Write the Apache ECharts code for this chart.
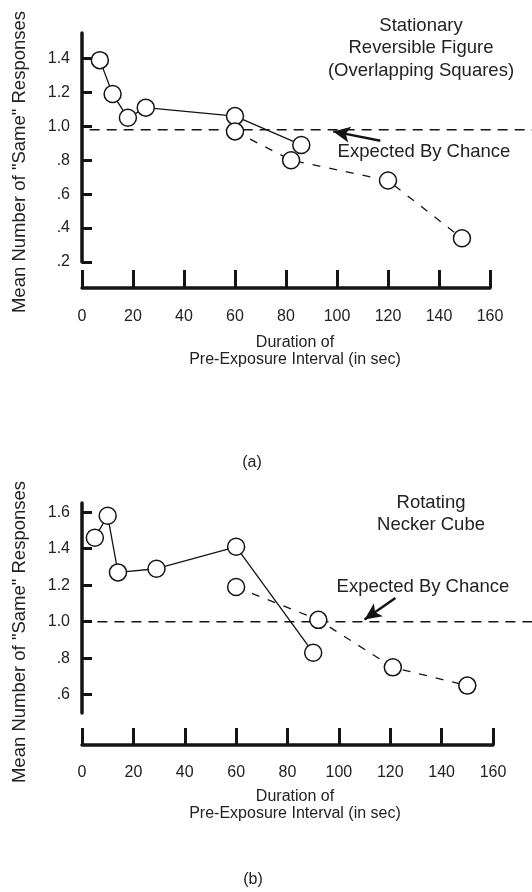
<!DOCTYPE html>
<html><head><meta charset="utf-8">
<script src="https://cdn.jsdelivr.net/npm/echarts@6/dist/echarts.min.js"></script>
<style>html,body{margin:0;padding:0;background:#fff}#c{width:532px;height:892px}</style>
</head><body><div id="c"></div>
<script>
// ---- data ----
const xTicks = [0, 20, 40, 60, 80, 100, 120, 140, 160];
const yTicksA = [0.2, 0.4, 0.6, 0.8, 1.0, 1.2, 1.4];
const yTicksB = [0.6, 0.8, 1.0, 1.2, 1.4, 1.6];
const aSolidX = [7, 12, 18, 25, 60, 86];
const aSolidY = [1.39, 1.19, 1.05, 1.11, 1.06, 0.89];
const aDashX = [60, 82, 120, 149];
const aDashY = [0.97, 0.80, 0.68, 0.34];
const bSolidX = [5, 10, 14, 29, 60, 90];
const bSolidY = [1.46, 1.58, 1.27, 1.29, 1.41, 0.83];
const bDashX = [60, 92, 121, 150];
const bDashY = [1.19, 1.01, 0.75, 0.65];
const chanceA = 0.98;
const chanceB = 1.0;
const titleA = 'Stationary\nReversible Figure\n(Overlapping Squares)';
const titleB = 'Rotating\nNecker Cube';
const chanceText = 'Expected By Chance';
const xName = 'Duration of\nPre-Exposure Interval (in sec)';
const yName = 'Mean Number of "Same" Responses';

const FONT = '"Liberation Sans", Arial, Helvetica, sans-serif';
const INK = '#141414';
const zip = (xs, ys) => xs.map((x, i) => [x, ys[i]]);
const fmtY = v => v >= 1 ? v.toFixed(1) : v.toFixed(1).replace(/^0/, '');

function xAxis(gi, offset, tickLen, margin) {
  return {
    type: 'value', gridIndex: gi, min: 0, max: 160, interval: 20, offset: offset,
    splitLine: { show: false },
    axisLine: { show: true, lineStyle: { color: INK, width: 3.5 } },
    axisTick: { show: true, inside: true, length: tickLen, lineStyle: { color: INK, width: 3 }, customValues: xTicks },
    axisLabel: { customValues: xTicks, margin: margin, fontSize: 16, color: '#222', fontFamily: FONT }
  };
}
function yAxis(gi, min, max, ticks) {
  return {
    type: 'value', gridIndex: gi, min: min, max: max,
    splitLine: { show: false },
    axisLine: { show: true, lineStyle: { color: INK, width: 3.5 } },
    axisTick: { show: true, inside: true, length: 10, lineStyle: { color: INK, width: 3 }, customValues: ticks },
    axisLabel: { customValues: ticks, margin: 12, fontSize: 16, color: '#222', fontFamily: FONT, formatter: fmtY }
  };
}
function hiddenAxis(gi, min, max) {
  return { type: 'value', gridIndex: gi, min: min, max: max, show: false, splitLine: { show: false } };
}
function dataSeries(gi, data, dashed) {
  return {
    type: 'line', xAxisIndex: gi, yAxisIndex: gi, data: data, z: 5,
    symbol: 'circle', symbolSize: 17,
    itemStyle: { color: '#fff', borderColor: INK, borderWidth: 1.5 },
    lineStyle: { color: INK, width: 1.3, type: dashed ? [8, 9] : 'solid' },
    emphasis: { disabled: true }, animation: false
  };
}
function chanceSeries(gi, level, x0, x1, arrowFrom, arrowTo) {
  return {
    type: 'line', xAxisIndex: gi, yAxisIndex: gi, z: 2,
    data: [[x0, level], [x1, level]], symbol: 'none',
    lineStyle: { color: INK, width: 1.5, type: [10, 7] },
    emphasis: { disabled: true }, animation: false,
    markLine: {
      silent: true, animation: false, label: { show: false },
      lineStyle: { color: INK, width: 2.5, type: 'solid' },
      data: [[
        { coord: arrowFrom, symbol: 'none' },
        { coord: arrowTo, symbol: 'arrow', symbolSize: [12, 17] }
      ]]
    }
  };
}
function txt(x, y, text, opts) {
  return {
    type: 'text', x: x, y: y, silent: true,
    style: Object.assign({ text: text, fill: '#222', font: '16px ' + FONT, textAlign: 'center', textVerticalAlign: 'middle' }, opts || {})
  };
}

// full-width overlay grids share the scale of the plot grids (px per unit)
const wA = 408, wB = 411, wFull = 450;
const chart = echarts.init(document.getElementById('c'), null, { renderer: 'canvas' });
chart.setOption({
  backgroundColor: '#fff',
  animation: false,
  grid: [
    { left: 82, top: 33, width: wA, height: 229 },
    { left: 82, top: 503, width: wB, height: 210 },
    { left: 82, top: 33, width: wFull, height: 229 },
    { left: 82, top: 503, width: wFull, height: 210 }
  ],
  xAxis: [xAxis(0, 26, 18, 21), xAxis(1, 32, 17, 20),
          hiddenAxis(2, 0, 160 * wFull / wA), hiddenAxis(3, 0, 160 * wFull / wB)],
  yAxis: [yAxis(0, 0.2, 1.55, yTicksA), yAxis(1, 0.5, 1.65, yTicksB),
          hiddenAxis(2, 0.2, 1.55), hiddenAxis(3, 0.5, 1.65)],
  series: [
    chanceSeries(2, chanceA, 3, 160 * wFull / wA, [117, 0.915], [98.5, 0.97]),
    dataSeries(0, zip(aSolidX, aSolidY), false),
    dataSeries(0, zip(aDashX, aDashY), true),
    chanceSeries(3, chanceB, 6, 160 * wFull / wB, [122, 1.13], [110, 1.012]),
    dataSeries(1, zip(bSolidX, bSolidY), false),
    dataSeries(1, zip(bDashX, bDashY), true)
  ],
  graphic: [
    txt(421, 48, titleA, { font: '18.5px ' + FONT, lineHeight: 22.5 }),
    txt(431, 514, titleB, { font: '18.5px ' + FONT, lineHeight: 22.5 }),
    txt(424, 152, chanceText, { font: '18.5px ' + FONT }),
    txt(423, 587, chanceText, { font: '18.5px ' + FONT }),
    txt(295, 351, xName, { lineHeight: 17 }),
    txt(295, 805, xName, { lineHeight: 17 }),
    txt(252, 463, '(a)'),
    txt(253, 880, '(b)'),
    Object.assign(txt(20, 162, yName, { font: '18.5px ' + FONT }), { rotation: Math.PI / 2 }),
    Object.assign(txt(20, 632, yName, { font: '18.5px ' + FONT }), { rotation: Math.PI / 2 })
  ]
});
</script>
</body></html>
